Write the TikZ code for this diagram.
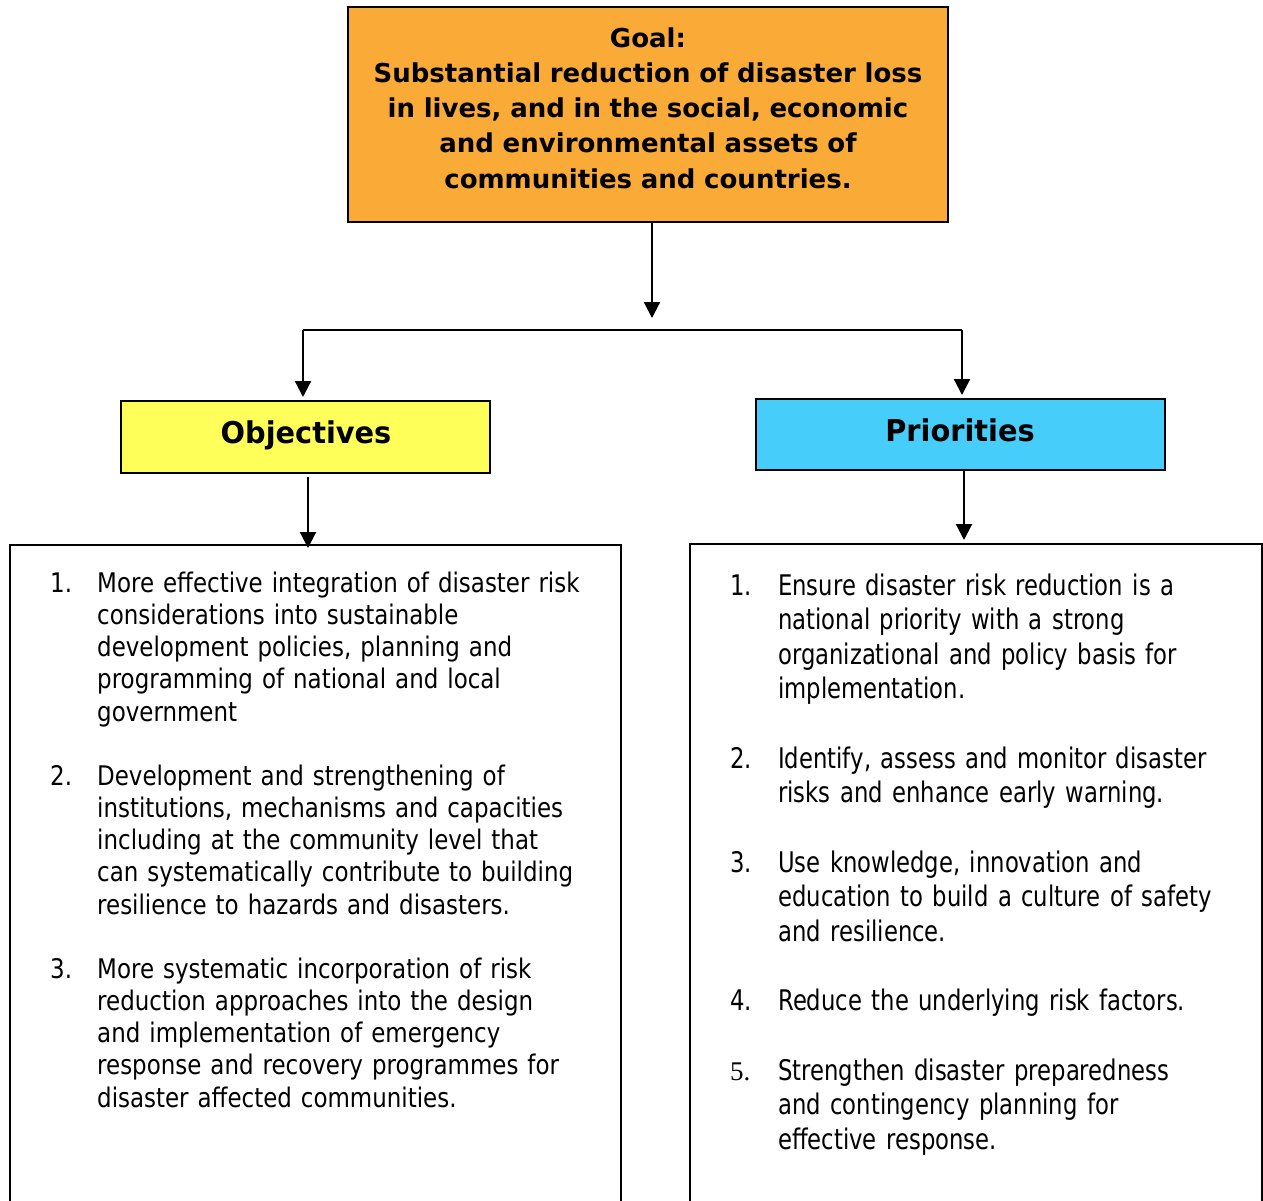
\documentclass[tikz,border=0pt]{standalone}
\usepackage{fontspec}
\setmainfont{DejaVu Sans}
\newfontfamily\goalfont[FakeStretch=1.0]{DejaVu Sans}
\newfontfamily\headfont[FakeStretch=0.96]{DejaVu Sans}
\newfontfamily\leftfont[FakeStretch=0.85]{DejaVu Sans}
\newfontfamily\rightfont[FakeStretch=0.80]{DejaVu Sans}
\newfontfamily\numserif{Liberation Serif}
\usetikzlibrary{arrows.meta}
\definecolor{goalor}{RGB}{250,170,55}
\definecolor{objyel}{RGB}{255,255,90}
\definecolor{priocy}{RGB}{70,205,250}
\begin{document}
\begin{tikzpicture}[x=1pt,y=-1pt,
  box/.style={draw=black,line width=2.2pt,anchor=north west,inner sep=0pt,outer sep=0pt},
  arr/.style={line width=2.2pt,-{Triangle[length=16pt,width=16pt]}},
  ln/.style={line width=2.2pt},
  ltext/.style={anchor=base west,inner sep=0pt,align=left,text width=520pt,font=\leftfont\fontsize{27}{32.3}\selectfont},
  lnum/.style={anchor=base west,inner sep=0pt,font=\leftfont\fontsize{27}{32.3}\selectfont},
  rtext/.style={anchor=base west,inner sep=0pt,align=left,text width=470pt,font=\rightfont\fontsize{28.4}{34.65}\selectfont},
  rnum/.style={anchor=base west,inner sep=0pt,font=\rightfont\fontsize{28.4}{34.65}\selectfont},
  head/.style={anchor=base,inner sep=0pt,font=\headfont\bfseries\fontsize{30}{36}\selectfont}
]
\useasboundingbox (0,0) rectangle (1263,1200);
\clip (0,0) rectangle (1263,1200);
\fill[white] (0,0) rectangle (1263,1200);

% boxes
\node[box,fill=goalor,minimum width=600pt,minimum height=215pt] (goal) at (348,7) {};
\node[box,fill=objyel,minimum width=369pt,minimum height=72pt] (obj) at (121,401) {};
\node[box,fill=priocy,minimum width=409pt,minimum height=71pt] (prio) at (756,399) {};
\node[box,minimum width=611pt,minimum height=700pt] (lbox) at (10,545) {};
\node[box,minimum width=572pt,minimum height=700pt] (rbox) at (690,544) {};

% goal text
\node[anchor=base,inner sep=0pt,align=center,text width=590pt,
  font=\goalfont\bfseries\fontsize{26}{35.3}\selectfont] (goaltext) at (648,47)
  {Goal:\\ Substantial reduction of disaster loss\\ in lives, and in the social, economic\\ and environmental assets of\\ communities and countries.};

\node[head] (objtext) at (306,443) {Objectives};
\node[head] (priotext) at (960,441) {Priorities};

% connectors
\coordinate (hub) at (652,318);
\coordinate (jl) at (303,330);
\coordinate (jr) at (962,330);
\draw[arr] (goal.south -| hub) -- (hub);
\draw[ln] (jl) -- (jr);
\draw[arr] (jl) -- ([yshift=4pt]obj.north -| jl);
\draw[arr] (jr) -- ([yshift=4pt]prio.north -| jr);
\coordinate (ol) at (308,0);
\coordinate (pr) at (964,0);
\draw[arr] ([yshift=-4pt]obj.south -| ol) -- ([yshift=-3pt]lbox.north -| ol);
\draw[arr] (prio.south -| pr) -- ([yshift=4pt]rbox.north -| pr);

% left items
\node[lnum] (ln1) at (50,592) {1.};
\node[ltext] (lt1) at (97,592) {More effective integration of disaster risk\\ considerations into sustainable\\ development policies, planning and\\ programming of national and local\\ government};
\node[lnum] (ln2) at (50,785) {2.};
\node[ltext] (lt2) at (97,785) {Development and strengthening of\\ institutions, mechanisms and capacities\\ including at the community level that\\ can systematically contribute to building\\ resilience to hazards and disasters.};
\node[lnum] (ln3) at (50,978) {3.};
\node[ltext] (lt3) at (97,978) {More systematic incorporation of risk\\ reduction approaches into the design\\ and implementation of emergency\\ response and recovery programmes for\\ disaster affected communities.};

% right items
\node[rnum] (rn1) at (730,595) {1.};
\node[rtext] (rt1) at (778,595) {Ensure disaster risk reduction is a\\ national priority with a strong\\ organizational and policy basis for\\ implementation.};
\node[rnum] (rn2) at (730,768.3) {2.};
\node[rtext] (rt2) at (778,768.3) {Identify, assess and monitor disaster\\ risks and enhance early warning.};
\node[rnum] (rn3) at (730,872.2) {3.};
\node[rtext] (rt3) at (778,872.2) {Use knowledge, innovation and\\ education to build a culture of safety\\ and resilience.};
\node[rnum] (rn4) at (730,1010.8) {4.};
\node[rtext] (rt4) at (778,1010.8) {Reduce the underlying risk factors.};
\node[rnum,font=\numserif\fontsize{27}{34.65}\selectfont] (rn5) at (730,1080.1) {5.};
\node[rtext] (rt5) at (778,1080.1) {Strengthen disaster preparedness\\ and contingency planning for\\ effective response.};
\end{tikzpicture}
\end{document}
